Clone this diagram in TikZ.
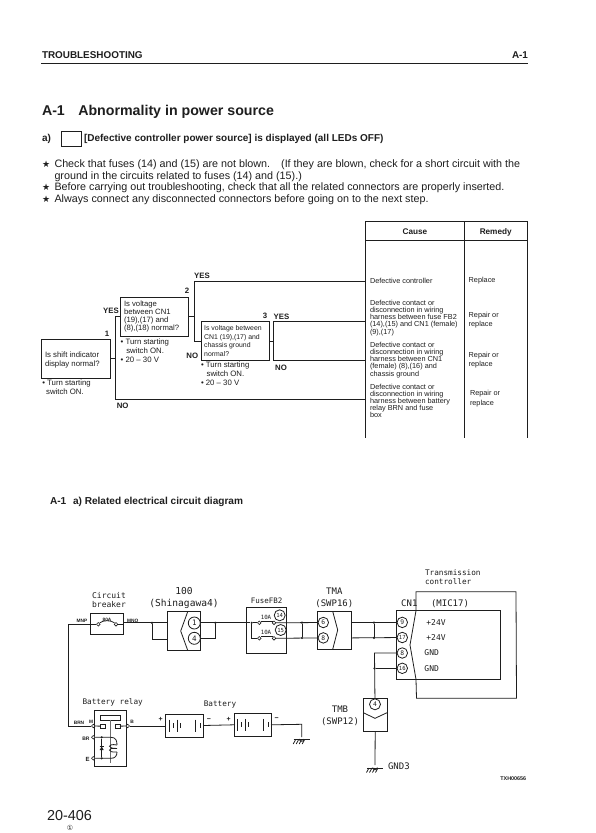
\documentclass[tikz,border=0pt]{standalone}
\usepackage{fontspec}
\setmainfont{Liberation Sans}
\newfontfamily\monof{DejaVu Sans Mono}
\newfontfamily\dvf{DejaVu Sans}
\definecolor{ink}{HTML}{1E1E1E}
\newcommand{\fsz}[2]{\fontsize{#1}{#2}\selectfont}
\tikzset{
  every node/.style={text=ink},
  txt/.style={inner sep=0pt,outer sep=0pt,anchor=west,text height=0.72em,text depth=0.2em},
  ctxt/.style={inner sep=0pt,outer sep=0pt,text height=0.72em,text depth=0.2em},
  multi/.style={inner sep=0pt,outer sep=0pt,anchor=west,align=left},
  body/.style={txt,font=\fsz{10.75}{12}},
  hlabel/.style={ctxt,font=\fsz{7.8}{9}\bfseries},
  note/.style={multi,font=\fsz{7.8}{8.8}},
  cause/.style={multi,font=\fsz{7.3}{7.1}},
  remedy/.style={multi,font=\fsz{7.3}{9.2}},
  qbox/.style={draw=ink,line width=1pt,inner sep=0pt,outer sep=0pt},
  qtext/.style={multi,font=\fsz{7.6}{8.2}},
  flow/.style={draw=ink,line width=1pt},
  tab/.style={draw=ink,line width=1pt},
  mono/.style={ctxt,font=\fsz{7.7}{9}\monof},
  monob/.style={ctxt,font=\fsz{9.6}{11}\monof},
  tiny/.style={ctxt,font=\fsz{4.8}{5}\bfseries},
  part/.style={draw=ink,line width=0.8pt,inner sep=0pt,outer sep=0pt},
  wire/.style={draw=ink,line width=0.8pt},
  pinc/.style={draw=ink,line width=0.8pt,circle,fill=white,inner sep=0pt,minimum size=10.5pt,font=\fsz{6.3}{7}\monof},
  term/.style={draw=ink,line width=0.6pt,circle,fill=white,inner sep=0pt,minimum size=3.6pt},
  jdot/.style={fill=ink,circle,inner sep=0pt,minimum size=2.4pt},
  gndsym/.pic={
    \draw[wire] (-2.3,0) arc (180:0:2.3);
    \draw[wire] (-8,0.5) -- (8,0.5);
    \foreach \d in {-6,-3,0,3} \draw[wire] (\d,0.5) -- (\d-2.5,5);
  }
}
\begin{document}
\begin{tikzpicture}[x=1pt,y=-1pt]
\useasboundingbox (0,0) rectangle (595,833);
\fill[white] (0,0) rectangle (595,833);

% page head
\node[txt,font=\fsz{9.9}{11}\bfseries] (hd) at (42,55.5) {TROUBLESHOOTING};
\node[txt,anchor=east,font=\fsz{9.9}{11}\bfseries] (hdr) at (528,56) {A-1};
\coordinate (rl) at (41,63.3); \coordinate (rr) at (528,63.3);
\draw[ink,line width=1pt] (rl) -- (rr);

\node[txt,font=\fsz{14.2}{16}\bfseries] (t1) at (42,112.5) {A-1};
\node[txt,font=\fsz{14.2}{16}\bfseries] (t2) at (78.3,112.5) {Abnormality in power source};
\node[txt,font=\fsz{10}{11}\bfseries] (sa) at (42,139.3) {a)};
\node[part,draw=ink,line width=0.7pt,minimum width=20.7pt,minimum height=15.7pt] (sb) at (71.3,138.9) {};
\node[txt,font=\fsz{10}{11}\bfseries] (sc) at (84,139.3) {[Defective controller power source] is displayed (all LEDs OFF)};

\node[txt,font=\fsz{9}{10}\dvf] (s1) at (42,165) {★};
\node[body] (b1) at (54.5,165) {Check that fuses (14) and (15) are not blown.\hspace{11pt}(If they are blown, check for a short circuit with the};
\node[body] (b2) at (54.5,176.6) {ground in the circuits related to fuses (14) and (15).)};
\node[txt,font=\fsz{9}{10}\dvf] (s2) at (42,188) {★};
\node[body] (b3) at (54.5,188) {Before carrying out troubleshooting, check that all the related connectors are properly inserted.};
\node[txt,font=\fsz{9}{10}\dvf] (s3) at (42,200) {★};
\node[body] (b4) at (54.5,200) {Always connect any disconnected connectors before going on to the next step.};

% table
\coordinate (tl) at (365.3,221.7); \coordinate (tmid) at (464.3,221.7); \coordinate (tr) at (527.7,221.7);
\coordinate (hl) at (365.3,240.7); \coordinate (hr) at (527.7,240.7);
\coordinate (bl) at (365.3,437.7); \coordinate (bmid) at (464.3,437.7); \coordinate (br) at (527.7,437.7);
\draw[tab] (bl) -- (tl) -- (tr) -- (br);
\draw[tab] (hl) -- (hr);
\draw[tab] (tmid) -- (bmid);
\node[ctxt,font=\fsz{8.2}{9}\bfseries] (hcause) at (415,231.5) {Cause};
\node[ctxt,font=\fsz{8.2}{9}\bfseries] (hremedy) at (495.7,231.5) {Remedy};

\node[cause] (c1) at (370,281) {Defective controller};
\node[cause] (c2) at (370,318) {Defective contact or\\disconnection in wiring\\harness between fuse FB2\\(14),(15) and CN1 (female)\\(9),(17)};
\node[cause] (c3) at (370,360) {Defective contact or\\disconnection in wiring\\harness between CN1\\(female) (8),(16) and\\chassis ground};
\node[cause] (c4) at (370,401) {Defective contact or\\disconnection in wiring\\harness between battery\\relay BRN and fuse\\box};
\node[remedy] (r1) at (468.7,281) {Replace};
\node[remedy] (r2) at (468.7,320.5) {Repair or\\replace};
\node[remedy] (r3) at (468.7,360) {Repair or\\replace};
\node[remedy] (r4) at (470,398.7) {Repair or\\replace};

% flow boxes
\node[qbox,minimum width=68.3pt,minimum height=39pt] (q1) at (75.9,358.5) {};
\node[qtext,font=\fsz{7.8}{9}] (q1t) at (45,359.5) {Is shift indicator\\display normal?};
\node[qbox,minimum width=68pt,minimum height=39pt] (q2) at (154,316.5) {};
\node[qtext,font=\fsz{7.7}{8}] (q2t) at (124,316.5) {Is voltage\\between CN1\\(19),(17) and\\(8),(18) normal?};
\node[qbox,minimum width=68pt,minimum height=38.5pt] (q3) at (235,341) {};
\node[qtext,font=\fsz{6.9}{8.4}] (q3t) at (204.2,341) {Is voltage between\\CN1 (19),(17) and\\chassis ground\\normal?};

\node[ctxt,font=\fsz{7.8}{9}\bfseries] (n1) at (107,334) {1};
\node[ctxt,font=\fsz{7.8}{9}\bfseries] (n2) at (187,291) {2};
\node[ctxt,font=\fsz{7.8}{9}\bfseries] (n3) at (265,316) {3};

\node[note,anchor=north west] (nt1) at (42.3,380) {• Turn starting\\\hspace*{3.8pt}switch ON.};
\node[note,anchor=north west] (nt2) at (120.7,339) {• Turn starting\\\hspace*{5.6pt}switch ON.\\• 20 -- 30 V};
\node[note,anchor=north west] (nt3) at (201,362.3) {• Turn starting\\\hspace*{5.6pt}switch ON.\\• 20 -- 30 V};

% flow connectors
\coordinate (j1) at (115.7,358.5);
\coordinate (j1t) at (115.7,316.5);
\coordinate (j1b) at (115.7,399.7);
\coordinate (j2) at (194.7,316.5);
\coordinate (j2t) at (194.7,281.3);
\coordinate (j2b) at (194.7,341);
\coordinate (j3) at (273.3,341);
\coordinate (j3t) at (273.3,321);
\coordinate (j3b) at (273.3,360);
\coordinate (e1) at (365.3,281.3);
\coordinate (e2) at (365.3,321);
\coordinate (e3) at (365.3,360);
\coordinate (e4) at (365.3,399.7);
\draw[flow] (q1.east) -- (j1);
\draw[flow] (j1b) -- (j1t) -- (q2.west);
\draw[flow] (j1b) -- (e4);
\draw[flow] (q2.east) -- (j2);
\draw[flow] (e1) -- (j2t) -- (j2b) -- (q3.west);
\draw[flow] (q3.east) -- (j3);
\draw[flow] (e2) -- (j3t) -- (j3b) -- (e3);

\node[hlabel] (y1) at (111,311.3) {YES};
\node[hlabel] (y2) at (202,276.3) {YES};
\node[hlabel] (y3) at (281.5,316.5) {YES};
\node[hlabel] (no1) at (122.7,406.3) {NO};
\node[hlabel] (no2) at (192.3,356.3) {NO};
\node[hlabel] (no3) at (281,367.7) {NO};

% section title
\node[txt,font=\fsz{10.1}{11}\bfseries] (st1) at (50,502) {A-1};
\node[txt,font=\fsz{10.1}{11}\bfseries] (st2) at (73,502) {a) Related electrical circuit diagram};

% circuit labels
\node[mono,font=\fsz{8}{9}\monof] (lb1) at (109,595.7) {Circuit};
\node[mono,font=\fsz{8}{9}\monof] (lb2) at (109,605) {breaker};
\node[monob] (l100) at (184,592) {100};
\node[monob] (lsh) at (184,604) {(Shinagawa4)};
\node[ctxt,font=\fsz{7.5}{9}\monof] (lfu) at (266.7,601.3) {FuseFB2};
\node[monob,font=\fsz{9}{11}\monof] (ltma) at (334.3,591.7) {TMA};
\node[monob,font=\fsz{9}{11}\monof] (lswp) at (334.3,604) {(SWP16)};
\node[monob,font=\fsz{9}{11}\monof] (lcn) at (409.3,604) {CN1};
\node[monob,font=\fsz{9}{11}\monof] (lmic) at (450,603.5) {(MIC17)};
\node[mono,anchor=west] (ltr) at (425,572.7) {Transmission};
\node[mono,anchor=west] (lco) at (425,582.3) {controller};
\node[tiny] (lmnp) at (82,620) {MNP};
\node[tiny] (lmno) at (132.7,620) {MNO};
\node[tiny] (l80) at (107,619) {80A};

% circuit breaker
\node[part,minimum width=32.6pt,minimum height=21.3pt] (cb) at (107,623.6) {};
\node[term] (cba) at (98.3,624.3) {};
\node[term] (cbb) at (116,624.3) {};
\draw[wire] (cba.north east) .. controls (103,620) and (111,620) .. (cbb.north west);
\coordinate (mnpc) at (68.3,624.3);
\coordinate (brnc) at (68.3,726);
\coordinate (w1a) at (152,622.8);
\coordinate (w1b) at (152,639);

% 100 connector
\node[part,minimum width=33.3pt,minimum height=38.6pt] (c100) at (183.7,631) {};
\coordinate (c100ct) at (187.7,611.7); \coordinate (c100cm) at (180.7,631); \coordinate (c100cb) at (187.7,650.3);
\draw[wire] (c100ct) -- (c100cm) -- (c100cb);
\node[pinc,minimum size=12pt,font=\fsz{7.5}{8}\monof] (p1) at (194.3,623) {1};
\node[pinc,minimum size=12pt,font=\fsz{7.5}{8}\monof] (p4) at (194.3,638.3) {4};
\node[jdot] (jw1) at (w1a) {};
\coordinate (c100l1) at (167,622.8); \coordinate (c100l2) at (167,639);
\coordinate (c100r1) at (200.3,622.8); \coordinate (c100r2) at (200.3,638.3);
\draw[wire] (mnpc) -- (cba);
\draw[wire] (mnpc) -- (brnc);
\draw[wire] (cbb.east) -- (cb.east |- cbb);
\draw[wire] (cb.east |- w1a) -- (c100l1);
\draw[wire] (jw1) -- (w1b) -- (c100l2);
\node[jdot] (jw2) at (215.3,622.8) {};
\coordinate (w2b) at (215.3,638.3);
\draw[wire] (c100r2) -- (w2b) -- (jw2);

% fuse box
\node[part,minimum width=40pt,minimum height=45.7pt] (fb) at (266.7,630.2) {};
\node[jdot] (jf) at (251.7,622.8) {};
\coordinate (jfb) at (251.7,638.3);
\node[term] (fa1) at (259.3,622.8) {};
\node[term] (fa2) at (274,622.8) {};
\node[term] (fb1) at (259.3,638.3) {};
\node[term] (fb2) at (274,638.3) {};
\draw[wire] (c100r1) -- (jf);
\draw[wire] (jf) -- (fa1);
\draw[wire] (jf) -- (jfb) -- (fb1);
\draw[wire] (fa1.north east) -- (fa2.north west);
\draw[wire] (fb1.north east) -- (fb2.north west);
\node[ctxt,font=\fsz{5.8}{6}\monof] (l10a) at (266,616.8) {10A};
\node[ctxt,font=\fsz{5.8}{6}\monof] (l10b) at (266,631.8) {10A};
\node[pinc,fill=none,minimum size=11pt,font=\fsz{5.6}{7}\monof] (p14) at (279.7,615.3) {14};
\node[pinc,fill=none,minimum size=11pt,font=\fsz{5.6}{7}\monof] (p15) at (280.7,630) {15};

% TMA
\node[part,minimum width=34.4pt,minimum height=38pt] (tma) at (334.5,630.3) {};
\coordinate (tmat) at (332.7,611.3); \coordinate (tmam) at (337.7,630); \coordinate (tmab) at (332.7,649.3);
\draw[wire] (tmat) -- (tmam) -- (tmab);
\node[pinc] (p6) at (323.3,622.5) {6};
\node[pinc] (p8) at (323.3,637.9) {8};
\node[jdot] (ja1) at (302,622.6) {};
\node[jdot] (ja2) at (302,638) {};
\draw[wire] (fa2) -- (p6);
\draw[wire] (fb2) -- (p8);
\draw[wire] (ja1) -- (ja2);

% CN1 controller
\node[part,minimum width=104pt,minimum height=68.6pt] (cn) at (448.7,645) {};
\coordinate (cnt) at (416,610.7); \coordinate (cnm) at (410,645); \coordinate (cnb) at (416,679.3);
\draw[wire] (cnt) -- (cnm) -- (cnb);
\coordinate (ctl) at (416,591.7); \coordinate (ctr) at (516,591.7); \coordinate (cbr) at (516.5,698.3); \coordinate (cbl) at (416.5,698.3);
\draw[wire] (cnt) -- (ctl) -- (ctr) -- (cbr) -- (cbl) -- (cnb);
\node[pinc,fill=white] (p9) at (402.3,622.4) {9};
\node[pinc,fill=white,font=\fsz{5.6}{7}\monof] (p17) at (402.3,637.5) {17};
\node[pinc,fill=white] (p8b) at (402.3,653) {8};
\node[pinc,fill=white,font=\fsz{5.6}{7}\monof] (p16) at (402.3,668.3) {16};
\node[jdot] (jc1) at (374,622.6) {};
\node[jdot] (jc2) at (374,637.9) {};
\draw[wire] (tma.east |- p6) -- (p9);
\draw[wire] (tma.east |- p8) -- (p17);
\draw[wire] (jc1) -- (jc2);
\node[monob,font=\fsz{8}{9}\monof] (v1) at (436,623.3) {+24V};
\node[monob,font=\fsz{8}{9}\monof] (v2) at (436,637.7) {+24V};
\node[monob,font=\fsz{8}{9}\monof] (g1) at (431.7,653.3) {GND};
\node[monob,font=\fsz{8}{9}\monof] (g2) at (431.7,668.7) {GND};

% TMB
\node[part,minimum width=23.7pt,minimum height=33.4pt] (tmb) at (375.2,715) {};
\coordinate (tmbl) at (363.3,712.7); \coordinate (tmbm) at (375,718.3); \coordinate (tmbr) at (387,712.7);
\draw[wire] (tmbl) -- (tmbm) -- (tmbr);
\node[pinc,minimum size=11pt] (p4b) at (375,704.3) {4};
\coordinate (gt) at (374.5,653);
\node[jdot] (jg) at (374.5,668.3) {};
\draw[wire] (p8b) -- (gt) -- (p4b);
\draw[wire] (jg) -- (p16);
\node[monob,font=\fsz{9}{11}\monof] (ltmb) at (340,710) {TMB};
\node[monob,font=\fsz{9}{11}\monof] (lsw2) at (340,722.3) {(SWP12)};
\coordinate (g3) at (375,765);
\draw[wire] (tmb.south) -- (g3);
\pic at (375,767.5) {gndsym};
\node[monob,font=\fsz{9}{11}\monof,anchor=west] (lg3) at (388,766.7) {GND3};
\node[ctxt,font=\fsz{5.4}{6}\bfseries] (txh) at (513.3,778.3) {TXH00656};

% battery relay
\node[mono] (lbr) at (112.7,701.7) {Battery relay};
\node[mono] (lbt) at (220,704.3) {Battery};
\node[part,minimum width=31.3pt,minimum height=56pt] (rel) at (110.3,738.7) {};
\node[part,minimum width=20.7pt,minimum height=4.3pt] (rbar) at (110.3,717.8) {};
\node[part,minimum width=4.6pt,minimum height=4.3pt] (rca) at (103,726.2) {};
\node[part,minimum width=4.7pt,minimum height=4.3pt] (rcb) at (117.6,726.2) {};
\coordinate (rst) at (110.3,762.7);
\draw[wire,draw=ink!65] (rbar.south) -- (rst);
\node[term] (tmm) at (93.3,726) {};
\node[term] (tbb) at (127.7,726) {};
\node[term] (tbr) at (93.3,737.3) {};
\node[term] (te) at (93.3,758.3) {};
\draw[wire] (brnc) -- (tmm);
\draw[wire] (tmm) -- (rca);
\draw[wire] (tbb) -- (rcb);
\coordinate (cc1) at (111,737.3); \coordinate (cc2) at (111,758.3);
\node[jdot] (jd1) at (101.7,737.3) {};
\node[jdot] (jd2) at (101.7,758.3) {};
\draw[wire] (tbr) -- (cc1) .. controls (116,737.3) and (117,741) .. (117,745);
\draw[wire] (te) -- (cc2) .. controls (115,758.3) and (117,756) .. (117,752);
\draw[wire] (jd1) -- (jd2);
\fill[ink] (99.7,750) -- (103.7,750) -- (101.7,746.5) -- cycle;
\draw[wire] (99.7,746.3) -- (103.7,746.3);
\draw[wire,line width=0.8pt] (117,745) .. controls (107,743) and (107,749) .. (117,748.5) .. controls (107,747) and (107,753) .. (117,752);
\node[tiny] (lbrn) at (79,722) {BRN};
\node[tiny] (lm) at (91,721.3) {M};
\node[tiny] (lb) at (132,721) {B};
\node[tiny,font=\fsz{5}{6}\bfseries] (lbr2) at (86,738) {BR};
\node[tiny,font=\fsz{6}{6}\bfseries] (le) at (87.7,759) {E};

% batteries
\node[part,minimum width=37.6pt,minimum height=23pt] (bat1) at (184.5,725.5) {};
\node[part,minimum width=37pt,minimum height=23pt] (bat2) at (252.5,724.8) {};
\draw[wire] (tbb) -- (bat1.west |- tbb);
\draw[wire] (bat1.east) -- (bat2.west);
\foreach \bx/\by in {165.7/725.5,233.7/724.8}{
  \foreach \dx in {3.3,11.3,30}{ \draw[wire] (\bx+\dx,\by-6) -- (\bx+\dx,\by+6); }
  \foreach \dx in {7.6,14.3,34.3}{ \draw[wire] (\bx+\dx,\by-2.5) -- (\bx+\dx,\by+2.5); }
}
\node[ctxt,font=\fsz{7}{8}\bfseries] (bp1) at (160.7,719) {+};
\node[ctxt,font=\fsz{7}{8}\bfseries] (bm1) at (209,719) {−};
\node[ctxt,font=\fsz{7}{8}\bfseries] (bp2) at (228.7,718.7) {+};
\node[ctxt,font=\fsz{7}{8}\bfseries] (bm2) at (276.7,718.3) {−};
\coordinate (bg) at (301.7,724.3);
\coordinate (bgd) at (301.7,737);
\draw[wire] (bat2.east) -- (bg) -- (bgd);
\pic at (301.7,739) {gndsym};

% page number
\node[txt,font=\fsz{14.4}{16}] (pg) at (47,818) {20-406};
\node[ctxt,font=\fsz{7}{8}\dvf] (pgc) at (70,828) {①};
\end{tikzpicture}
\end{document}
